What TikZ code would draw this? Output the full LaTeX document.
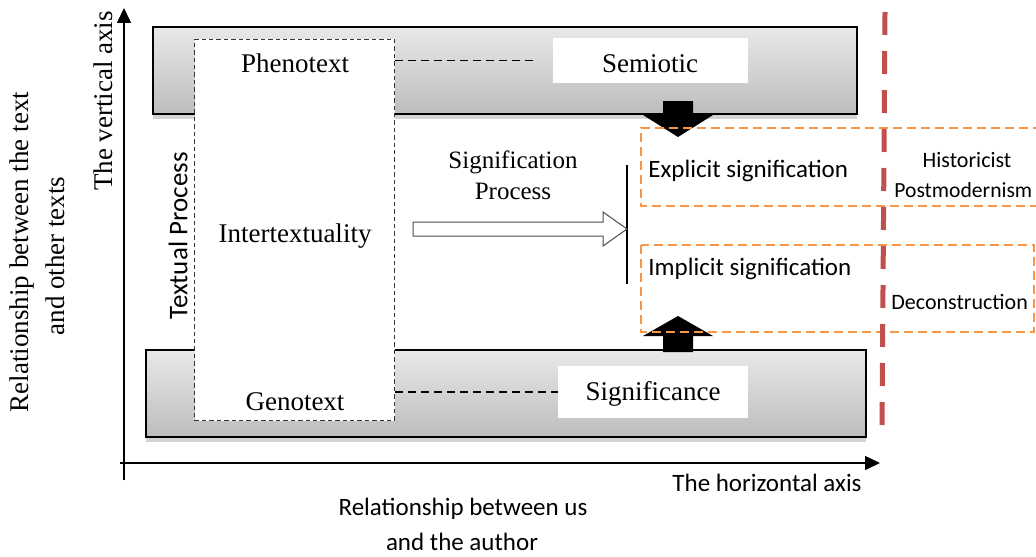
\documentclass[tikz,border=0pt]{standalone}
\usepackage{fontspec}
\setmainfont{Liberation Serif}
\newfontfamily\calfont{Carlito}
\usetikzlibrary{shadows,arrows.meta}
\definecolor{orng}{HTML}{F79646}
\definecolor{redd}{HTML}{C0504D}
\tikzset{
  graybox/.style={top color=gray!18, bottom color=gray!52, draw=black, line width=0.75pt,
    drop shadow={shadow xshift=0pt, shadow yshift=-2.5pt, opacity=0.35, fill=gray}},
  whitebox/.style={fill=white, draw=none},
  dashbox/.style={fill=white, draw=black!80, line width=0.5pt, dash pattern=on 2.2pt off 1.5pt},
  conn/.style={draw=black, line width=0.75pt, dash pattern=on 4pt off 2.5pt},
  orbox/.style={draw=orng, line width=1pt, dash pattern=on 4.5pt off 2.5pt},
  serif/.style={font=\fontsize{13.5}{16}\selectfont, inner sep=0pt},
  serifsm/.style={font=\fontsize{12.5}{15}\selectfont, inner sep=0pt},
  sans/.style={font=\calfont\fontsize{12.5}{15}\selectfont, inner sep=0pt},
  sanssm/.style={font=\calfont\fontsize{11}{13}\selectfont, inner sep=0pt},
  blockarrow/.style={fill=black, draw=none},
  axis/.style={line width=0.75pt, -{Triangle[length=7.5pt,width=7pt]}},
}
\begin{document}
\begin{tikzpicture}[x=0.5pt,y=-0.5pt]
\useasboundingbox (0,0) rectangle (1036,556);
% gray boxes
\path[graybox] (153,27) rectangle (857,114);
\path[graybox] (146,350) rectangle (866,437);
% block arrows
\fill[blockarrow] (663,101) -- (693,101) -- (693,115) -- (713,115) -- (678,137) -- (643,115) -- (663,115) -- cycle;
\fill[blockarrow] (663,352) -- (693,352) -- (693,336) -- (713,336) -- (678,316) -- (643,336) -- (663,336) -- cycle;
% orange dashed boxes
\draw[orbox] (1042,128) -- (641,128) -- (641,206) -- (1042,206);
\draw[orbox] (641,245) rectangle (1034,332);
% textual process box
\node[dashbox, minimum width=100pt, minimum height=190.5pt, anchor=north west] (tp) at (194,39) {};
% white label boxes
\node[whitebox, minimum width=97.5pt, minimum height=22.5pt, inner sep=0pt] (sem) at (650.5,60.5) {};
\node[whitebox, minimum width=95pt, minimum height=26pt, inner sep=0pt] (sig) at (653,392) {};
\node[serif, anchor=base] at (650,73) {Semiotic};
\node[serif, anchor=base] at (653,400) {Significance};
% dashed connectors
\draw[conn] (tp.east |- sem) -- ([xshift=-10pt]sem.west);
\draw[conn] (tp.east |- sig) -- (sig.west);
% texts in the textual box
\node[serif, anchor=base] (pheno) at (295,73) {Phenotext};
\node[serif, anchor=base] (inter) at (295,242) {Intertextuality};
\node[serif, anchor=base] (geno) at (295,410) {Genotext};
\node[rotate=90, inner sep=0pt, font=\calfont\fontsize{13.5}{16}\selectfont] (txp) at (178,236) {Textual Process};
% signification process
\node[serifsm, anchor=base] (sp1) at (513,168) {Signification};
\node[serifsm, anchor=base] (sp2) at (513,199) {Process};
\coordinate (bar) at (627,229);
\draw[line width=1pt] (627,165) -- (627,284);
\draw[draw=black!70, fill=white, line width=0.5pt]
  (413,222) -- (603,222) -- (603,212) -- (bar) -- (603,246) -- (603,236) -- (413,236) -- cycle;
% orange box labels
\node[sans, anchor=base west] (exp) at (648,177) {Explicit signification};
\node[sans, anchor=base west] (imp) at (648,275) {Implicit signification};
\node[sanssm, anchor=base] (hist) at (967,167) {Historicist};
\node[sanssm, anchor=base west, font=\calfont\fontsize{10.8}{13}\selectfont] (post) at (894,197) {Postmodernism};
\node[sanssm, anchor=base west] (dec) at (891,309) {Deconstruction};
% red dashed line
\draw[redd, line width=2.5pt, dash pattern=on 11.5pt off 8pt] (885,12) -- (882,425);
% axes
\coordinate (o1) at (124,480);
\coordinate (vt) at (124,8);
\coordinate (o2) at (120,463);
\coordinate (ht) at (880,463);
\draw[axis] (o1) -- (vt);
\draw[axis] (o2) -- (ht);
% axis labels
\node[serif, rotate=90] (va) at (103,101) {The vertical axis};
\node[serif, rotate=90] (vl1) at (22,252) {Relationship between the text};
\node[serif, rotate=90] (vl2) at (55,256) {and other texts};
\node[sans, anchor=base] (ha) at (767,491) {The horizontal axis};
\node[sans, anchor=base] (hl1) at (463,515) {Relationship between us};
\node[sans, anchor=base] (hl2) at (462,550) {and the author};
\end{tikzpicture}
\end{document}
